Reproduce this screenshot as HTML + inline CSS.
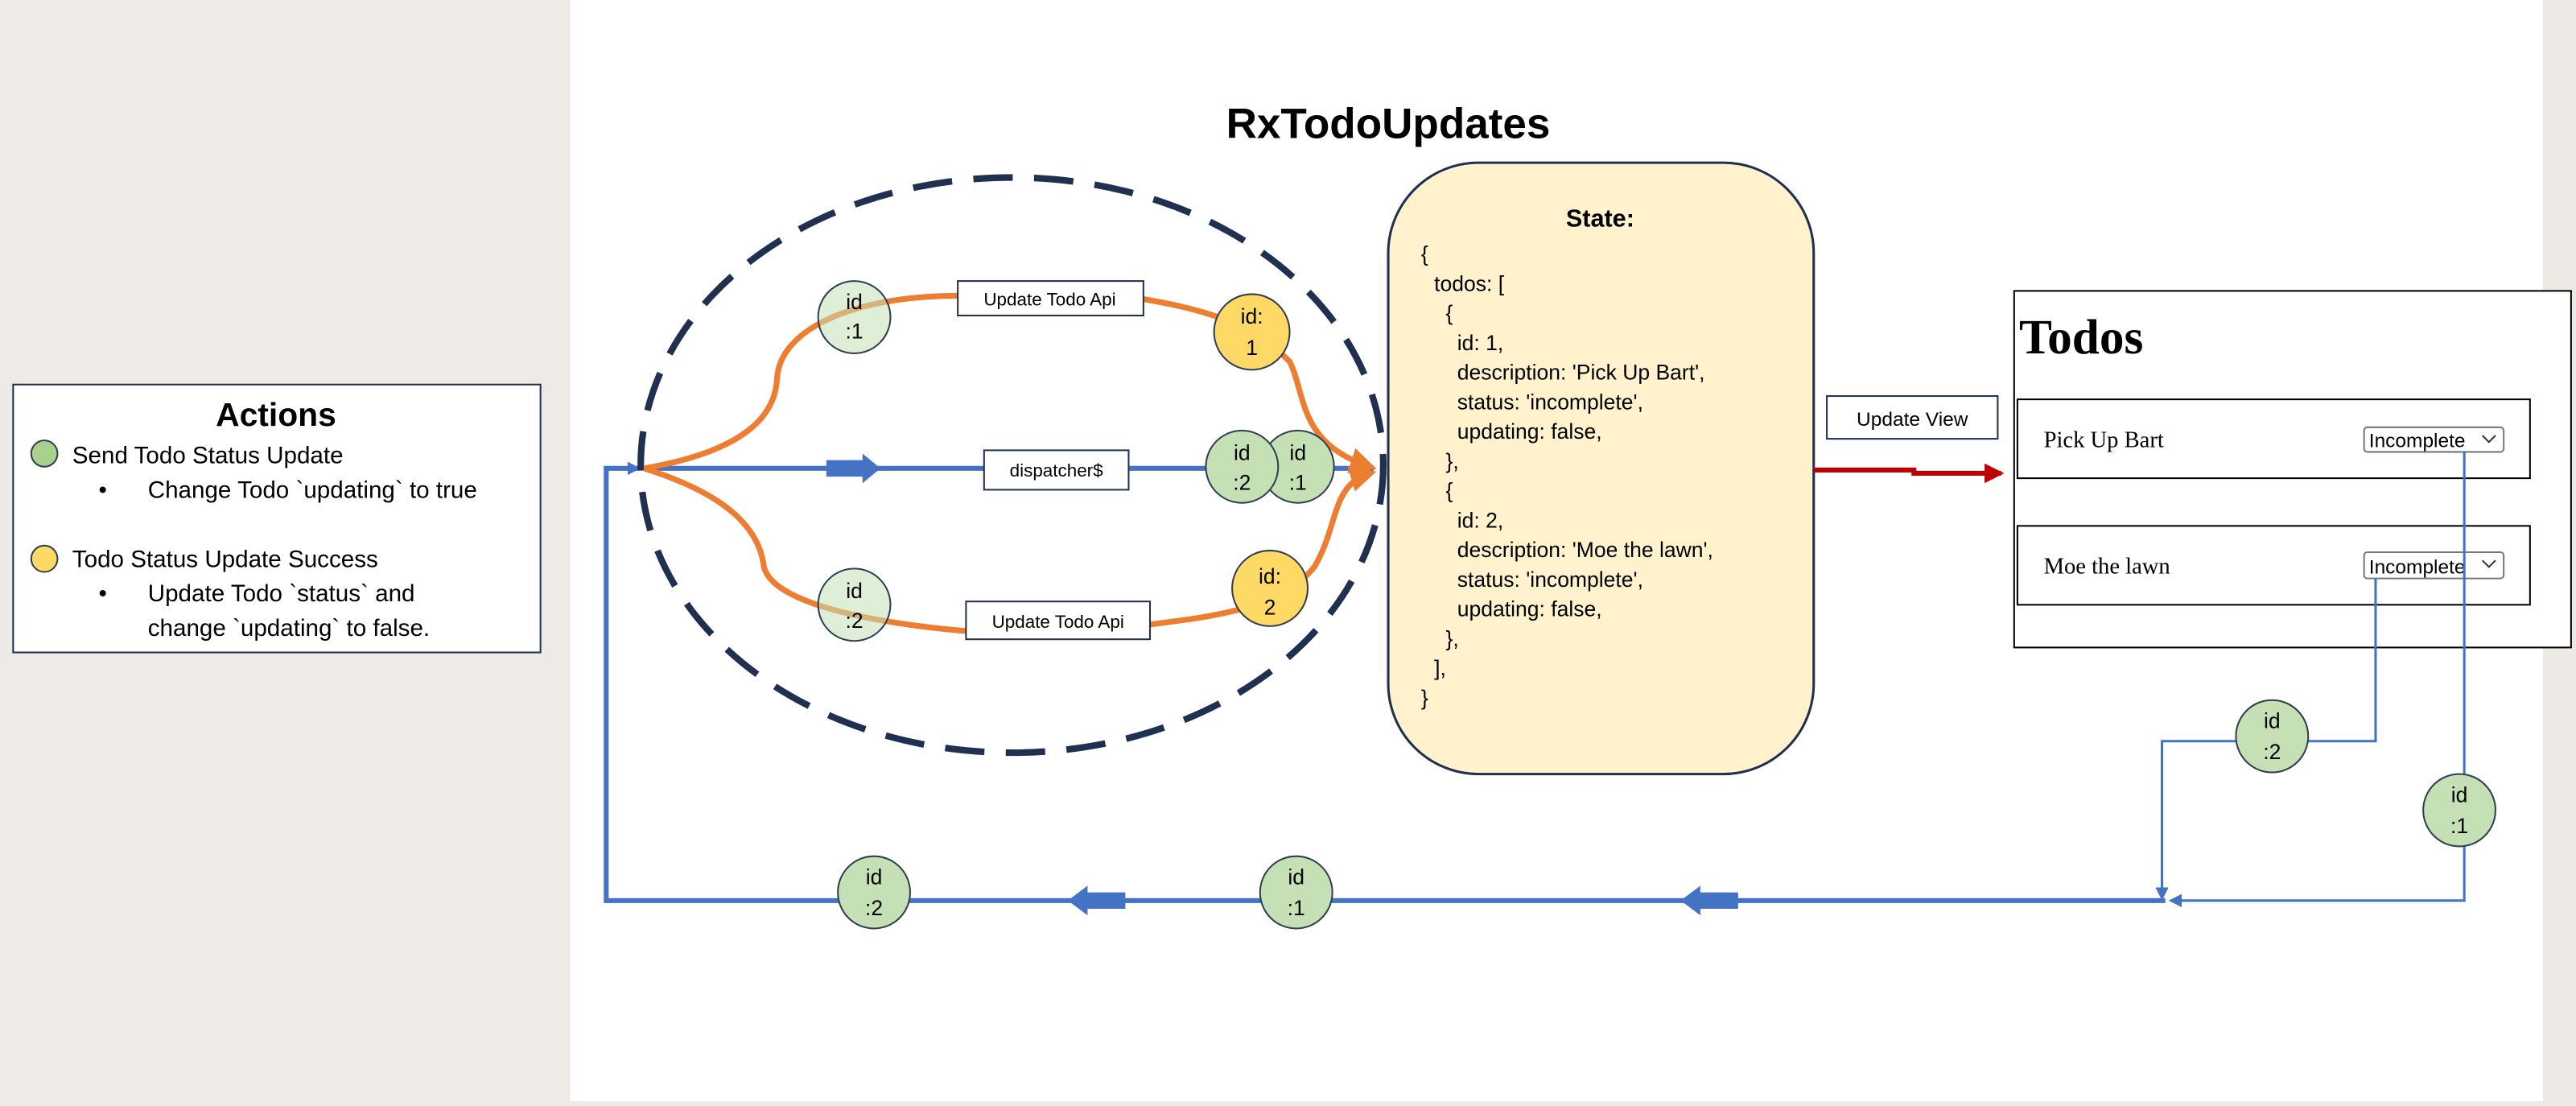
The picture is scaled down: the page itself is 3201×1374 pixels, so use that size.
<!DOCTYPE html>
<html><head><meta charset="utf-8"><style>
html,body{margin:0;padding:0;background:#fff}
svg{display:block}
</style></head><body>
<svg width="3201" height="1374" viewBox="0 0 1568 673" preserveAspectRatio="none" xmlns="http://www.w3.org/2000/svg" font-family="Liberation Sans, sans-serif">
<defs>
<marker id="ab" markerWidth="8" markerHeight="8" refX="6" refY="4" orient="auto" markerUnits="userSpaceOnUse"><path d="M0,0 L8,4 L0,8 Z" fill="#4472C4"/></marker>
<marker id="ao" markerWidth="16" markerHeight="16" refX="12" refY="8" orient="auto" markerUnits="userSpaceOnUse"><path d="M0,0 L16,8 L0,16 Z" fill="#ED7D31"/></marker>
<marker id="ar" markerWidth="12" markerHeight="12" refX="10" refY="6" orient="auto" markerUnits="userSpaceOnUse"><path d="M0,0 L12,6 L0,12 Z" fill="#C00000"/></marker>
</defs>
<rect x="0" y="0" width="1568" height="673" fill="#EEEAE5"/>
<rect x="347" y="0" width="1201" height="670" fill="#fff"/>
<rect x="1548" y="0" width="20" height="673" fill="#EDEAE6"/>

<rect x="8" y="234" width="321" height="163" fill="#fff" stroke="#1F3050" stroke-width="1"/>
<text x="168" y="259" font-size="20" font-weight="bold" text-anchor="middle">Actions</text>
<circle cx="27" cy="276" r="8" fill="#A9D18E" stroke="#2F3F50" stroke-width="1"/>
<text x="44" y="282" font-size="14.5">Send Todo Status Update</text>
<text x="60" y="303" font-size="14.5">•</text>
<text x="90" y="303" font-size="14.5">Change Todo `updating` to true</text>
<circle cx="27" cy="340" r="8" fill="#FFD966" stroke="#2F3F50" stroke-width="1"/>
<text x="44" y="345" font-size="14.5">Todo Status Update Success</text>
<text x="60" y="366" font-size="14.5">•</text>
<text x="90" y="366" font-size="14.5">Update Todo `status` and</text>
<text x="90" y="387" font-size="14.5">change `updating` to false.</text>

<text x="845" y="84" font-size="26" font-weight="bold" text-anchor="middle">RxTodoUpdates</text>

<polyline points="1318,548 369,548 369,285 388,285" fill="none" stroke="#4472C4" stroke-width="3" marker-end="url(#ab)"/>
<line x1="392" y1="285" x2="836" y2="285" stroke="#4472C4" stroke-width="3" marker-end="url(#ab)"/>
<path d="M503,280 L525,280 L525,276 L536,285 L525,294 L525,290 L503,290 Z" fill="#4472C4"/>
<path d="M685,543 L662,543 L662,539 L650,548 L662,557 L662,553 L685,553 Z" fill="#4472C4"/>
<path d="M1058,543 L1035,543 L1035,539 L1023,548 L1035,557 L1035,553 L1058,553 Z" fill="#4472C4"/>

<ellipse cx="616" cy="283" rx="226" ry="175" fill="none" stroke="#1F3050" stroke-width="4" stroke-dasharray="24 13"/>

<path d="M392,285 C450,275 472,255 473,230 C475,200 520,180 583,180 M696,182 C730,188 760,195 785,220 C795,240 790,270 834,284" fill="none" stroke="#ED7D31" stroke-width="3.5" marker-end="url(#ao)"/>
<path d="M392,285 C440,300 462,320 465,345 C470,365 520,378 588,384 M700,380 C740,375 780,370 800,345 C815,320 810,295 834,288" fill="none" stroke="#ED7D31" stroke-width="3.5" marker-end="url(#ao)"/>

<rect x="583" y="171" width="113" height="21" fill="#fff" stroke="#1F3050"/>
<text x="639" y="186" font-size="11" text-anchor="middle">Update Todo Api</text>
<rect x="588" y="366" width="112" height="23" fill="#fff" stroke="#1F3050"/>
<text x="644" y="382" font-size="11" text-anchor="middle">Update Todo Api</text>
<rect x="599" y="274" width="88" height="24" fill="#fff" stroke="#1F3050"/>
<text x="643" y="290" font-size="11" text-anchor="middle">dispatcher$</text>

<g font-size="13" text-anchor="middle">
<circle cx="520" cy="193" r="22" fill="#C5E0B4" fill-opacity="0.55" stroke="#2F3F50"/>
<text x="520" y="188">id</text><text x="520" y="206">:1</text>
<circle cx="520" cy="368" r="22" fill="#C5E0B4" fill-opacity="0.55" stroke="#2F3F50"/>
<text x="520" y="364">id</text><text x="520" y="382">:2</text>
<circle cx="762" cy="202" r="23" fill="#FFD966" stroke="#2F3F50"/>
<text x="762" y="197">id:</text><text x="762" y="216">1</text>
<circle cx="773" cy="358" r="23" fill="#FFD966" stroke="#2F3F50"/>
<text x="773" y="355">id:</text><text x="773" y="374">2</text>
<circle cx="790" cy="284" r="22" fill="#C5E0B4" stroke="#2F3F50"/>
<text x="790" y="280">id</text><text x="790" y="298">:1</text>
<circle cx="756" cy="284" r="22" fill="#C5E0B4" stroke="#2F3F50"/>
<text x="756" y="280">id</text><text x="756" y="298">:2</text>
</g>

<rect x="845" y="99" width="259" height="372" rx="55" fill="#FFF2CC" stroke="#1F3050" stroke-width="1.5"/>
<text x="974" y="138" font-size="15" font-weight="bold" text-anchor="middle">State:</text>
<g font-size="13">
<text x="865" y="159">{</text>
<text x="873" y="177">todos: [</text>
<text x="880" y="195">{</text>
<text x="887" y="213">id: 1,</text>
<text x="887" y="231">description: 'Pick Up Bart',</text>
<text x="887" y="249">status: 'incomplete',</text>
<text x="887" y="267">updating: false,</text>
<text x="880" y="285">},</text>
<text x="880" y="303">{</text>
<text x="887" y="321">id: 2,</text>
<text x="887" y="339">description: 'Moe the lawn',</text>
<text x="887" y="357">status: 'incomplete',</text>
<text x="887" y="375">updating: false,</text>
<text x="880" y="393">},</text>
<text x="873" y="411">],</text>
<text x="865" y="429">}</text>
</g>

<rect x="1112" y="241" width="104" height="26" fill="#fff" stroke="#1F3050"/>
<text x="1164" y="259" font-size="12" text-anchor="middle">Update View</text>
<polyline points="1104,286 1165,286 1165,288 1218,288" fill="none" stroke="#C00000" stroke-width="3" marker-end="url(#ar)"/>

<rect x="1226" y="177" width="339" height="217" fill="#fff" stroke="#000" stroke-width="1"/>
<text x="1229" y="215" font-size="30" font-weight="bold" font-family="Liberation Serif, serif">Todos</text>
<rect x="1228" y="243" width="312" height="48" fill="#fff" stroke="#000"/>
<rect x="1228" y="320" width="312" height="48" fill="#fff" stroke="#000"/>
<text x="1244" y="272" font-size="14" font-family="Liberation Serif, serif">Pick Up Bart</text>
<text x="1244" y="349" font-size="14" font-family="Liberation Serif, serif">Moe the lawn</text>
<rect x="1439" y="260" width="85" height="15" rx="2" fill="#fff" stroke="#777"/>
<rect x="1439" y="336" width="85" height="16" rx="2" fill="#fff" stroke="#777"/>
<text x="1442" y="272" font-size="12">Incomplete</text>
<text x="1442" y="349" font-size="12">Incomplete</text>
<path d="M1511,265 l4,4 l4,-4" fill="none" stroke="#333"/>
<path d="M1511,341 l4,4 l4,-4" fill="none" stroke="#333"/>

<polyline points="1500,275 1500,548 1322,548" fill="none" stroke="#4472C4" stroke-width="1.5" marker-end="url(#ab)"/>
<polyline points="1446,352 1446,451 1316,451 1316,546" fill="none" stroke="#4472C4" stroke-width="1.5" marker-end="url(#ab)"/>

<g font-size="13" text-anchor="middle">
<circle cx="1383" cy="448" r="22" fill="#C5E0B4" stroke="#2F3F50"/>
<text x="1383" y="443">id</text><text x="1383" y="462">:2</text>
<circle cx="1497" cy="493" r="22" fill="#C5E0B4" stroke="#2F3F50"/>
<text x="1497" y="488">id</text><text x="1497" y="507">:1</text>
<circle cx="532" cy="543" r="22" fill="#C5E0B4" stroke="#2F3F50"/>
<text x="532" y="538">id</text><text x="532" y="557">:2</text>
<circle cx="789" cy="543" r="22" fill="#C5E0B4" stroke="#2F3F50"/>
<text x="789" y="538">id</text><text x="789" y="557">:1</text>
</g>
</svg>
</body></html>
